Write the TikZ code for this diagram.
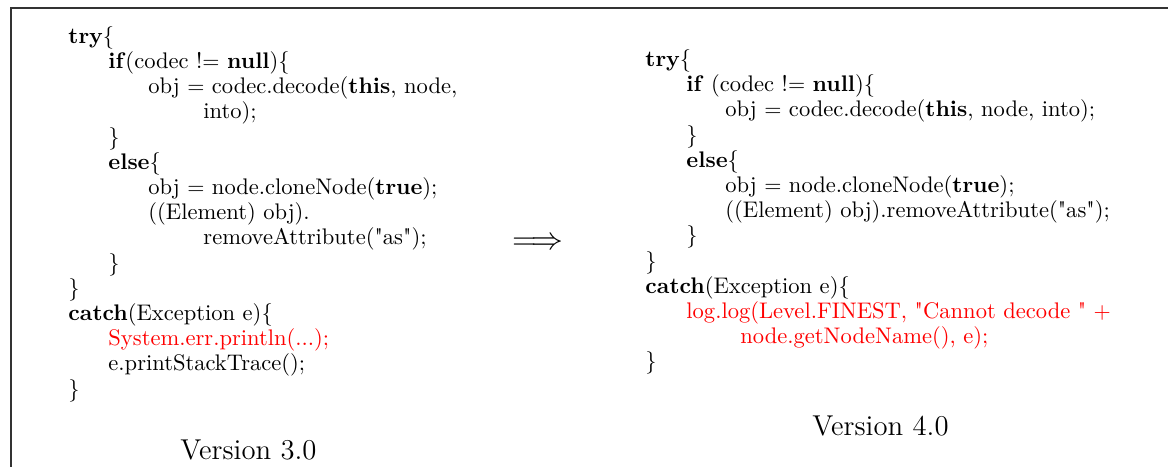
\documentclass[tikz,border=0pt]{standalone}
\newcommand{\kwd}[1]{\textbf{#1}}
\newcommand{\qq}{\textquotedbl}
\tikzset{
  codeline/.style={anchor=base west, inner sep=0pt, font=\fontsize{10.2}{12}\selectfont},
  hotline/.style={codeline, text=red},
  caption/.style={anchor=base west, inner sep=0pt, font=\fontsize{13}{15}\selectfont},
  frame/.style={draw=black!80, line width=0.65pt}
}
\begin{document}
\begin{tikzpicture}[x=0.4525pt, y=-0.4525pt]
  \useasboundingbox (0,0) rectangle (1168,466);
  % surrounding frame (open to the right and bottom)
  \draw[frame] (11,490) -- (11,8) -- (1190,8);

  % ---- old version ----
  \node[codeline] (l1)  at (68,43.3)  {\kwd{try}\{};
  \node[codeline] (l2)  at (108,68.5) {\kwd{if}(codec !$=$ \kwd{null})\{};
  \node[codeline] (l3)  at (148,93.7) {obj $=$ codec.decode(\kwd{this}, node,};
  \node[codeline] (l4)  at (203,118.9) {into);};
  \node[codeline] (l5)  at (108,144.1) {\}};
  \node[codeline] (l6)  at (108,169.3) {\kwd{else}\{};
  \node[codeline] (l7)  at (148,194.5) {obj $=$ node.cloneNode(\kwd{true});};
  \node[codeline] (l8)  at (148,219.7) {((Element) obj).};
  \node[codeline] (l9)  at (203,244.9) {removeAttribute(\qq as\qq);};
  \node[codeline] (l10) at (108,270.1) {\}};
  \node[codeline] (l11) at (68,295.3)  {\}};
  \node[codeline] (l12) at (68,320.5)  {\kwd{catch}(Exception e)\{};
  \node[hotline]  (l13) at (108,345.7) {System.err.println(...);};
  \node[codeline] (l14) at (108,370.9) {e.printStackTrace();};
  \node[codeline] (l15) at (68,396.1)  {\}};
  \node[caption]  (v3)  at (180,459.3) {Version 3.0};

  % ---- transformation symbol ----
  \node[anchor=base, inner sep=0pt, font=\fontsize{15}{17}\selectfont] (imp) at (537.5,249) {$\Longrightarrow$};

  % ---- new version ----
  \node[codeline] (r1)  at (645,66.5)  {\kwd{try}\{};
  \node[codeline] (r2)  at (686,91.7)  {\kwd{if} (codec !$=$ \kwd{null})\{};
  \node[codeline] (r3)  at (725,116.9) {obj $=$ codec.decode(\kwd{this}, node, into);};
  \node[codeline] (r4)  at (686,142.1) {\}};
  \node[codeline] (r5)  at (686,167.3) {\kwd{else}\{};
  \node[codeline] (r6)  at (725,192.5) {obj $=$ node.cloneNode(\kwd{true});};
  \node[codeline] (r7)  at (725,217.7) {((Element) obj).removeAttribute(\qq as\qq);};
  \node[codeline] (r8)  at (686,242.9) {\}};
  \node[codeline] (r9)  at (645,268.1) {\}};
  \node[codeline] (r10) at (645,293.3) {\kwd{catch}(Exception e)\{};
  \node[hotline]  (r11) at (686,318.5) {log.log(Level.FINEST, \qq Cannot decode \qq{} $+$};
  \node[hotline]  (r12) at (740,343.7) {node.getNodeName(), e);};
  \node[codeline] (r13) at (645,368.9) {\}};
  \node[caption]  (v4)  at (812,435)   {Version 4.0};
\end{tikzpicture}
\end{document}
